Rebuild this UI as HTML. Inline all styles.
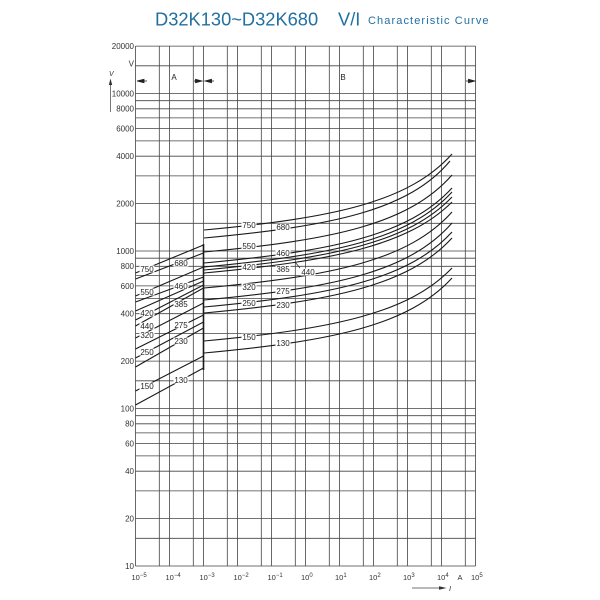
<!DOCTYPE html>
<html><head><meta charset="utf-8"><style>
html,body{margin:0;padding:0;background:#fff;}
svg{display:block;}
text{font-family:"Liberation Sans",sans-serif;}
</style></head><body>
<svg width="600" height="600" viewBox="0 0 600 600" xmlns="http://www.w3.org/2000/svg">
<rect width="600" height="600" fill="#fff"/>
<text x="155" y="25.5" font-size="18.3" fill="#2270a2">D32K130~D32K680</text>
<text x="338" y="25.5" font-size="18.3" fill="#2270a2">V/I</text>
<text x="368" y="24" font-size="11" letter-spacing="1.1" fill="#2270a2">Characteristic Curve</text>

<g stroke="#444" stroke-width="0.8" fill="none">
<path d="M135.5 46.1H475.5M135.5 65.8H475.5M135.5 93.5H475.5M135.5 100.7H475.5M135.5 108.8H475.5M135.5 117.9H475.5M135.5 128.4H475.5M135.5 140.9H475.5M135.5 156.2H475.5M135.5 175.9H475.5M135.5 203.6H475.5M135.5 223.3H475.5M135.5 251H475.5M135.5 258.2H475.5M135.5 266.3H475.5M135.5 275.4H475.5M135.5 285.9H475.5M135.5 298.4H475.5M135.5 313.7H475.5M135.5 333.4H475.5M135.5 361.1H475.5M135.5 380.8H475.5M135.5 408.5H475.5M135.5 415.7H475.5M135.5 423.8H475.5M135.5 432.9H475.5M135.5 443.4H475.5M135.5 455.9H475.5M135.5 471.2H475.5M135.5 490.9H475.5M135.5 518.6H475.5M135.5 538.3H475.5M135.5 566H475.5"/>
<path d="M135.5 46V566M159.3 46V566M169.5 46V566M193.3 46V566M203.5 46V566M227.3 46V566M237.5 46V566M261.3 46V566M271.5 46V566M295.3 46V566M305.5 46V566M329.3 46V566M339.5 46V566M363.3 46V566M373.5 46V566M397.3 46V566M407.5 46V566M431.3 46V566M441.5 46V566M465.3 46V566M475.5 46V566"/>
</g>

<!-- y labels -->
<g font-size="8" fill="#333" text-anchor="end">
<text x="134" y="49">20000</text>
<text x="134" y="66.5">V</text>
<text x="134" y="96.4">10000</text>
<text x="134" y="111.7">8000</text>
<text x="134" y="131.3">6000</text>
<text x="134" y="159.1">4000</text>
<text x="134" y="206.5">2000</text>
<text x="134" y="253.9">1000</text>
<text x="134" y="269.2">800</text>
<text x="134" y="288.8">600</text>
<text x="134" y="316.6">400</text>
<text x="134" y="364">200</text>
<text x="134" y="411.4">100</text>
<text x="134" y="426.7">80</text>
<text x="134" y="446.3">60</text>
<text x="134" y="474.1">40</text>
<text x="134" y="521.5">20</text>
<text x="134" y="568.9">10</text>
</g>

<!-- y axis arrow -->
<text x="109" y="76" font-size="7" font-style="italic" fill="#333">V</text>
<path d="M110.5 84V112" stroke="#555" stroke-width="0.8"/>
<path d="M110.5 78.5L108.8 85L112.2 85Z" fill="#333"/>

<!-- x labels -->
<g font-size="7.5" fill="#333">
<text x="131.5" y="580">10<tspan font-size="6" dy="-3">−5</tspan></text>
<text x="165.5" y="580">10<tspan font-size="6" dy="-3">−4</tspan></text>
<text x="199.5" y="580">10<tspan font-size="6" dy="-3">−3</tspan></text>
<text x="233.5" y="580">10<tspan font-size="6" dy="-3">−2</tspan></text>
<text x="267.5" y="580">10<tspan font-size="6" dy="-3">−1</tspan></text>
<text x="301" y="580">10<tspan font-size="6" dy="-3">0</tspan></text>
<text x="335" y="580">10<tspan font-size="6" dy="-3">1</tspan></text>
<text x="369" y="580">10<tspan font-size="6" dy="-3">2</tspan></text>
<text x="403" y="580">10<tspan font-size="6" dy="-3">3</tspan></text>
<text x="437" y="580">10<tspan font-size="6" dy="-3">4</tspan></text>
<text x="457.5" y="580">A</text>
<text x="471" y="580">10<tspan font-size="6" dy="-3">5</tspan></text>
</g>
<path d="M412 588H440" stroke="#444" stroke-width="0.8"/>
<path d="M446.5 588L439 586.2L439 589.8Z" fill="#333"/>
<text x="449" y="591" font-size="7.5" font-style="italic" fill="#333">I</text>

<!-- region arrows -->
<g fill="#222" stroke="#222" stroke-width="0.8">
<path d="M137 81L144 79.3L144 82.7Z"/><path d="M143 81H147" fill="none"/>
<path d="M194 81H197" fill="none"/><path d="M202 81L195.5 79.3L195.5 82.7Z"/>
<path d="M205 81L211.5 79.3L211.5 82.7Z"/><path d="M211 81H214" fill="none"/>
<path d="M466 81H469" fill="none"/><path d="M475 81L468.5 79.3L468.5 82.7Z"/>
</g>
<text x="174" y="80" font-size="8" fill="#222" text-anchor="middle">A</text>
<text x="343" y="80" font-size="8" fill="#222" text-anchor="middle">B</text>

<!-- curves -->
<g stroke="#1a1a1a" stroke-width="1.1" fill="none">
<path d="M204 230C334 218 409 202 452 154"/>
<path d="M204 238C334 226 409 210 450 161"/>
<path d="M204 252C334 240 409 224 452 175"/>
<path d="M204 263C334 251 409 235 452 188"/>
<path d="M204 267C334 255 409 239 452 192"/>
<path d="M204 270C334 258 409 242 452 197"/>
<path d="M204 273C334 261 409 245 452 202"/>
<path d="M204 288C334 276 409 260 452 212"/>
<path d="M204 300C334 288 409 272 452 223"/>
<path d="M204 307C334 295 409 279 452 232"/>
<path d="M204 313C334 301 409 285 452 238"/>
<path d="M204 341C334 329 409 313 452 268"/>
<path d="M204 353C334 341 409 325 452 278"/>

<path d="M135.5 273L203.5 245"/>
<path d="M135.5 279L203.5 253"/>
<path d="M135.5 296L203.5 267"/>
<path d="M135.5 302L203.5 277"/>
<path d="M135.5 311L203.5 281"/>
<path d="M135.5 320L203.5 285"/>
<path d="M135.5 326L203.5 288"/>
<path d="M135.5 338L203.5 303"/>
<path d="M135.5 349L203.5 315"/>
<path d="M135.5 358L203.5 322"/>
<path d="M135.5 367L203.5 328"/>
<path d="M135.5 391L203.5 356"/>
<path d="M135.5 405L203.5 368"/>
</g>
<path d="M203.5 244V370" stroke="#1a1a1a" stroke-width="1.6"/>

<!-- curve labels -->
<g fill="#fff">
<rect x="241.5" y="221.5" width="15" height="7"/>
<rect x="275.5" y="223.5" width="15" height="7"/>
<rect x="241.5" y="242.5" width="15" height="7"/>
<rect x="275.5" y="249.5" width="15" height="7"/>
<rect x="241.5" y="263.5" width="15" height="7"/>
<rect x="275.5" y="265.5" width="15" height="7"/>
<rect x="300.5" y="268.5" width="15" height="7"/>
<rect x="241.5" y="283.5" width="15" height="7"/>
<rect x="275.5" y="287.5" width="15" height="7"/>
<rect x="241.5" y="299.5" width="15" height="7"/>
<rect x="275.5" y="301.5" width="15" height="7"/>
<rect x="241.5" y="333.5" width="15" height="7"/>
<rect x="275.5" y="339.5" width="15" height="7"/>

<rect x="139.5" y="265.5" width="15" height="7"/>
<rect x="173.5" y="259.5" width="15" height="7"/>
<rect x="139.5" y="288.5" width="15" height="7"/>
<rect x="173.5" y="282.5" width="15" height="7"/>
<rect x="139.5" y="309.5" width="15" height="7"/>
<rect x="173.5" y="300.5" width="15" height="7"/>
<rect x="139.5" y="322.5" width="15" height="7"/>
<rect x="139.5" y="331.5" width="15" height="7"/>
<rect x="173.5" y="321.5" width="15" height="7"/>
<rect x="139.5" y="348.5" width="15" height="7"/>
<rect x="173.5" y="337.5" width="15" height="7"/>
<rect x="139.5" y="382.5" width="15" height="7"/>
<rect x="173.5" y="376.5" width="15" height="7"/>
</g>
<g font-size="8" fill="#222" text-anchor="middle">
<text x="249" y="227.9">750</text>
<text x="283" y="229.9">680</text>
<text x="249" y="248.9">550</text>
<text x="283" y="255.9">460</text>
<text x="249" y="269.9">420</text>
<text x="283" y="271.9">385</text>
<text x="308" y="274.9">440</text>
<text x="249" y="289.9">320</text>
<text x="283" y="293.9">275</text>
<text x="249" y="305.9">250</text>
<text x="283" y="307.9">230</text>
<text x="249" y="339.9">150</text>
<text x="283" y="345.9">130</text>

<text x="147" y="271.9">750</text>
<text x="181" y="265.9">680</text>
<text x="147" y="294.9">550</text>
<text x="181" y="288.9">460</text>
<text x="147" y="315.9">420</text>
<text x="181" y="306.9">385</text>
<text x="147" y="328.9">440</text>
<text x="147" y="337.9">320</text>
<text x="181" y="327.9">275</text>
<text x="147" y="354.9">250</text>
<text x="181" y="343.9">230</text>
<text x="147" y="388.9">150</text>
<text x="181" y="382.9">130</text>
</g>
<path d="M295 262L300 268" stroke="#222" stroke-width="0.7"/>
</svg>
</body></html>
